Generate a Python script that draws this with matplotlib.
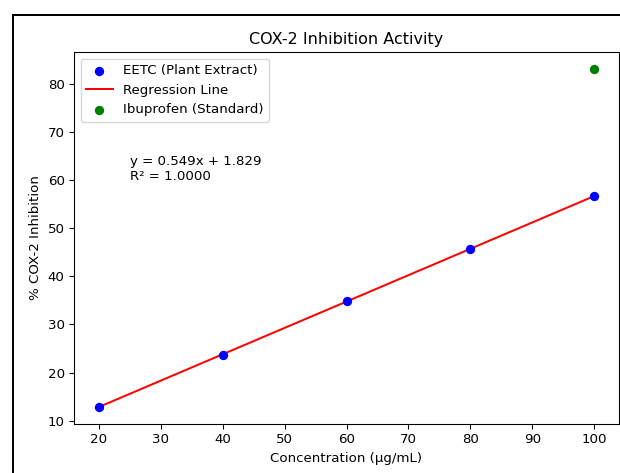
import matplotlib.pyplot as plt
from matplotlib.lines import Line2D

conc = [20, 40, 60, 80, 100]
eetc = [12.8, 23.7, 34.8, 45.7, 56.7]
ibu_conc = [100]
ibu = [83.2]
slope = 0.549
intercept = 1.829

dpi = 96
fig = plt.figure(figsize=(620 / dpi, 473 / dpi), dpi=dpi)
ax = fig.add_axes([74 / 620, 49 / 473, 545 / 620, 372 / 473])

fit = [slope * c + intercept for c in conc]
ax.scatter(conc, eetc, color="blue", label="EETC (Plant Extract)", zorder=3)
ax.plot(conc, fit, color="red", label="Regression Line")
ax.scatter(ibu_conc, ibu, color="green", label="Ibuprofen (Standard)", zorder=3)

ax.text(25, 60, "y = %.3fx + %.3f\nR² = %.4f" % (slope, intercept, 1.0))
ax.set_title("COX-2 Inhibition Activity")
ax.set_xlabel("Concentration (µg/mL)")
ax.set_ylabel("% COX-2 Inhibition")
ax.legend(loc="upper left")

# cropped dark frame around the figure
fig.add_artist(Line2D([13 / 620, 1], [1 - 15 / 473, 1 - 15 / 473], color="black", lw=1.5))
fig.add_artist(Line2D([13 / 620, 13 / 620], [0, 1 - 15 / 473], color="black", lw=1.5))

fig.savefig("out.png", dpi=dpi)
